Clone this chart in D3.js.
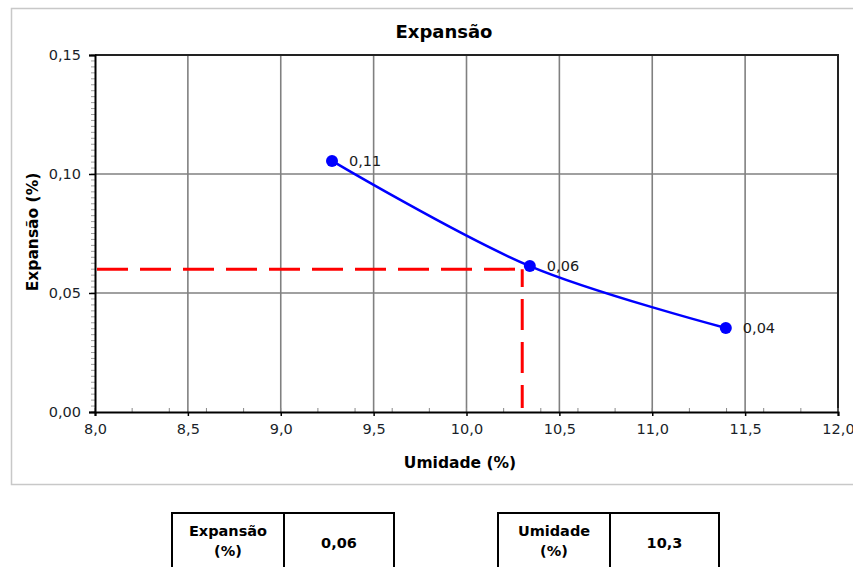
<!DOCTYPE html>
<html>
<head>
<meta charset="utf-8">
<script src="https://cdn.jsdelivr.net/npm/d3@7"></script>
<style>
  body { margin: 0; background: #fff; }
  text { font-family: "DejaVu Sans", Verdana, sans-serif; }
</style>
</head>
<body>
<svg id="chart" width="853" height="567"></svg>
<script>
// ---- data ----
const umidade = [9.276, 10.341, 11.396];
const expansao = [0.1055, 0.0613, 0.0353];
const pointLabels = ["0,11", "0,06", "0,04"];
const xTicks = [8.0, 8.5, 9.0, 9.5, 10.0, 10.5, 11.0, 11.5, 12.0];
const yTicks = [0.00, 0.05, 0.10, 0.15];
const targetUmidade = [10.3];
const targetExpansao = [0.06];
const tableLeft = ["Expansão", "(%)", "0,06"];
const tableRight = ["Umidade", "(%)", "10,3"];

const svg = d3.select("#chart");
const m = { left: 95, right: 838, top: 55, bottom: 412 };

const x = d3.scaleLinear().domain([8, 12]).range([m.left, m.right]);
const y = d3.scaleLinear().domain([0, 0.15]).range([m.bottom, m.top]);
const fmtX = v => d3.format(".1f")(v).replace(".", ",");
const fmtY = v => d3.format(".2f")(v).replace(".", ",");

// outer frame
svg.append("rect").attr("x", 11.5).attr("y", 8.5).attr("width", 860).attr("height", 476)
  .attr("fill", "#fff").attr("stroke", "#c8c8c8").attr("stroke-width", 1.5);

// gridlines
const grid = svg.append("g");
xTicks.slice(1, -1).forEach(t => {
  grid.append("line").attr("x1", x(t)).attr("x2", x(t)).attr("y1", m.top).attr("y2", m.bottom)
    .attr("stroke", "#808080").attr("stroke-width", 1.6);
});
yTicks.slice(1, -1).forEach(t => {
  grid.append("line").attr("x1", m.left).attr("x2", m.right).attr("y1", y(t)).attr("y2", y(t))
    .attr("stroke", "#808080").attr("stroke-width", 1.6);
});

// plot border (top/right)
svg.append("path")
  .attr("d", `M${m.left},${m.top}H${m.right}V${m.bottom}`)
  .attr("fill", "none").attr("stroke", "#222").attr("stroke-width", 2);

// minor ticks
const yMinor = d3.range(0, 0.1501, 0.0025);
svg.append("g").selectAll("line").data(yMinor).join("line")
  .attr("x1", m.left - 4).attr("x2", m.left).attr("y1", d => y(d)).attr("y2", d => y(d))
  .attr("stroke", "#888").attr("stroke-width", 0.8);
const xMinor = d3.range(8, 12.001, 0.2);
svg.append("g").selectAll("line").data(xMinor).join("line")
  .attr("x1", d => x(d)).attr("x2", d => x(d)).attr("y1", m.bottom - 4).attr("y2", m.bottom)
  .attr("stroke", "#888").attr("stroke-width", 1);

// axes
const xAxis = svg.append("g").attr("transform", `translate(0,${m.bottom})`)
  .call(d3.axisBottom(x).tickValues(xTicks).tickFormat(fmtX).tickSize(4).tickPadding(8));
const yAxis = svg.append("g").attr("transform", `translate(${m.left},0)`)
  .call(d3.axisLeft(y).tickValues(yTicks).tickFormat(fmtY).tickSize(6).tickPadding(8));
[xAxis, yAxis].forEach(a => {
  a.attr("font-size", 14.5).attr("font-family", "'DejaVu Sans', Verdana, sans-serif");
  a.select(".domain").attr("stroke", "#000").attr("stroke-width", 2);
  a.selectAll(".tick line").attr("stroke", "#000").attr("stroke-width", 1.5);
  a.selectAll(".tick text").attr("fill", "#1a1f2a");
});

// red dashed target lines
svg.append("line")
  .attr("x1", x(8) + 2).attr("x2", x(targetUmidade[0]))
  .attr("y1", y(targetExpansao[0])).attr("y2", y(targetExpansao[0]))
  .attr("stroke", "#ff0000").attr("stroke-width", 3).attr("stroke-dasharray", "31,12");
svg.append("line")
  .attr("x1", x(targetUmidade[0])).attr("x2", x(targetUmidade[0]))
  .attr("y1", y(0) - 4).attr("y2", y(targetExpansao[0]))
  .attr("stroke", "#ff0000").attr("stroke-width", 3)
  .attr("stroke-dasharray", "31,12").attr("stroke-dashoffset", 8);

// data line
const pts = umidade.map((u, i) => [u, expansao[i]]);
const line = d3.line().x(d => x(d[0])).y(d => y(d[1])).curve(d3.curveCatmullRom.alpha(0.5));
svg.append("path").datum(pts).attr("d", line)
  .attr("fill", "none").attr("stroke", "#0000ff").attr("stroke-width", 2.5);
svg.append("g").selectAll("circle").data(pts).join("circle")
  .attr("cx", d => x(d[0])).attr("cy", d => y(d[1])).attr("r", 6).attr("fill", "#0000ff");
svg.append("g").selectAll("text").data(pts).join("text")
  .attr("x", d => x(d[0]) + 17).attr("y", d => y(d[1]) + 5)
  .attr("font-size", 14.5).attr("fill", "#1a1a1a")
  .text((d, i) => pointLabels[i]);

// titles
svg.append("text").attr("x", 444).attr("y", 38).attr("text-anchor", "middle")
  .attr("font-size", 18).attr("font-weight", "bold").attr("fill", "#000").text("Expansão");
svg.append("text").attr("x", 460).attr("y", 468).attr("text-anchor", "middle")
  .attr("font-size", 15.5).attr("font-weight", "bold").attr("fill", "#000").text("Umidade (%)");
svg.append("text").attr("transform", "translate(38,232) rotate(-90)").attr("text-anchor", "middle")
  .attr("font-size", 15.5).attr("font-weight", "bold").attr("fill", "#000").text("Expansão (%)");

// bottom tables
function drawTable(x0, xMid, x1, vals) {
  const g = svg.append("g");
  const top = 513, bot = 580;
  g.append("rect").attr("x", x0).attr("y", top).attr("width", x1 - x0).attr("height", bot - top)
    .attr("fill", "none").attr("stroke", "#000").attr("stroke-width", 2);
  g.append("line").attr("x1", xMid).attr("x2", xMid).attr("y1", top).attr("y2", bot)
    .attr("stroke", "#000").attr("stroke-width", 2);
  const cl = (x0 + xMid) / 2, cr = (xMid + x1) / 2;
  g.append("text").attr("x", cl).attr("y", 536).attr("text-anchor", "middle")
    .attr("font-size", 14.5).attr("font-weight", "bold").text(vals[0]);
  g.append("text").attr("x", cl).attr("y", 556).attr("text-anchor", "middle")
    .attr("font-size", 14.5).attr("font-weight", "bold").text(vals[1]);
  g.append("text").attr("x", cr).attr("y", 548).attr("text-anchor", "middle")
    .attr("font-size", 14.5).attr("font-weight", "bold").text(vals[2]);
}
drawTable(172, 284, 394, tableLeft);
drawTable(498, 610, 719, tableRight);
</script>
</body>
</html>
